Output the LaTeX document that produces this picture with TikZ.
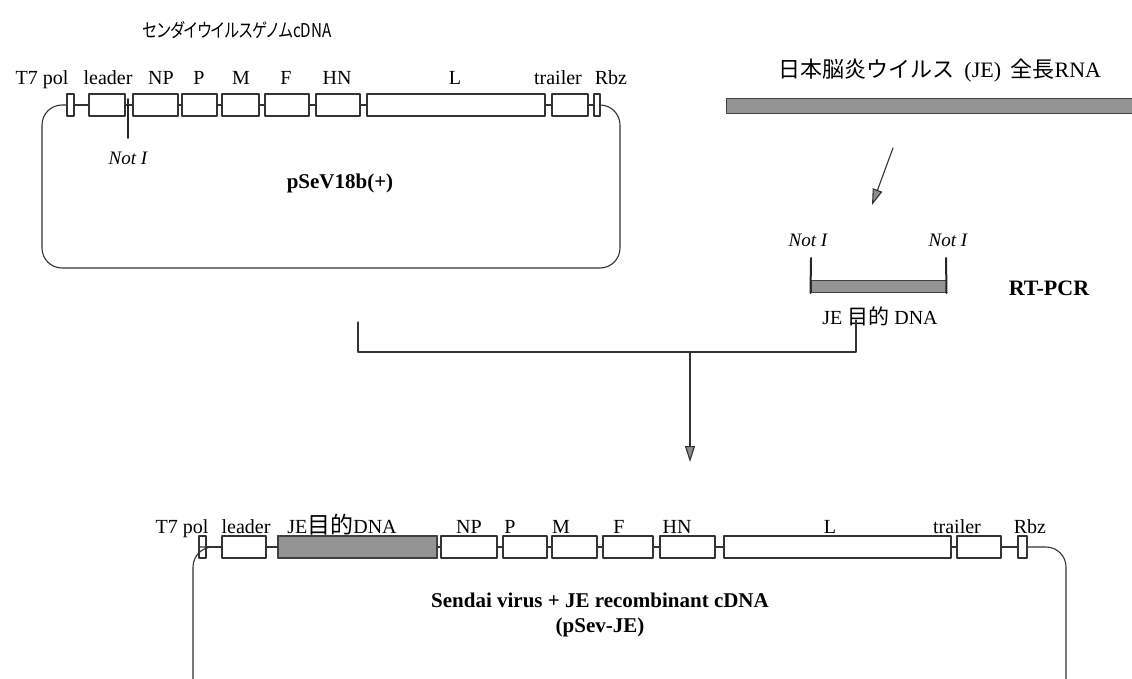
\documentclass[tikz,border=0pt]{standalone}
\usepackage{fontspec}
\setmainfont{Liberation Serif}
\newfontfamily\jpfont{Noto Sans CJK JP}
\newfontfamily\jppfont[RawFeature=+palt]{Noto Sans CJK JP}
\usetikzlibrary{arrows.meta}
\begin{document}
\begin{tikzpicture}[x=1pt,y=-1pt,line join=round,line cap=round,
  lbl/.style={font=\fontsize{20}{20}\selectfont},
  notlbl/.style={font=\itshape\fontsize{19}{19}\selectfont},
  boldlbl/.style={font=\bfseries\fontsize{21}{25}\selectfont},
  gene/.style={draw=black!80,line width=1.2pt,fill=white,minimum height=22pt,inner sep=0pt},
  bb/.style={draw=black!80,line width=1.1pt},
  grayfill/.style={fill=black!42,draw=black!75,line width=1pt,inner sep=0pt},
  tip/.style={-{Triangle[length=16pt,width=10pt,fill=black!45]}}]
  \useasboundingbox (0,0) rectangle (1132,679);
  % Sendai genome cDNA
  \node[font=\jppfont\fontsize{19}{19}\selectfont,xscale=0.8,transform shape] (sevtitle) at (237,30) {センダイウイルスゲノムcDNA};
  \foreach \na/\xa/\xb/\txt/\lx in {T7/67/74/T7 pol/42, le/89/125/leader/108, NP/133/178/NP/161, P/182/217/P/199,
      M/222/259/M/241, F/265/309/F/286, HN/316/360/HN/337, L/367/545/L/455, tr/552/588/trailer/558, Rbz/594/600/Rbz/611}{
    \node[gene,minimum width={(\xb-\xa)*1pt}] (t\na) at ({(\xa+\xb)/2},105) {};
    \node[lbl,anchor=base] (tl\na) at (\lx,85) {\txt};
  }
  \foreach \p/\q in {T7/le,le/NP,NP/P,P/M,M/F,F/HN,HN/L,L/tr,tr/Rbz} \draw[bb] (t\p.east) -- (t\q.west);
  \draw[bb,rounded corners=20pt] (tT7.west) -| (42,268) -| (620,105) -- (tRbz.east);
  \coordinate (tcut1) at (128,99); \coordinate (tcut2) at (128,138);
  \draw[line width=1.6pt,black!85] (tcut1) -- (tcut2);
  \node[notlbl] (tnot) at (128,158) {Not I};
  \node[boldlbl] (tname) at (340,183) {pSeV18b(+)};
  % JE RNA and RT-PCR
  \node[font=\fontsize{22}{22}\selectfont] (jetitle) at (940,71) {{\jpfont 日本脳炎ウイルス}\hspace{4pt} (JE)\hspace{4pt} {\jpfont 全長}RNA};
  \node[grayfill,minimum width=410pt,minimum height=15pt,anchor=west] (jerna) at (726,106.5) {};
  \coordinate (r1) at (893,148); \coordinate (r2) at (872,205);
  \draw[bb,tip] (r1) -- (r2);
  \node[notlbl] (pnot1) at (808,240) {Not I};
  \node[notlbl] (pnot2) at (948,240) {Not I};
  \node[grayfill,minimum width=135pt,minimum height=12pt] (pcr) at (878.5,286.5) {};
  \coordinate (pe1) at (811,258); \coordinate (pe2) at (946,258);
  \draw[line width=2pt,black!85] (pe1) -- (pcr.south west) (pe2) -- (pcr.south east);
  \node[lbl] (pcrname) at (880,316) {JE {\jpfont\fontsize{21}{21}\selectfont 目的} DNA};
  \node[boldlbl,font=\bfseries\fontsize{22}{22}\selectfont] (rtpcr) at (1049,288) {RT-PCR};
  % ligation
  \coordinate (m1) at (358,322); \coordinate (m2) at (856,320);
  \coordinate (mj) at (690,352); \coordinate (m3) at (690,462);
  \draw[bb] (m1) |- (mj) -| (m2);
  \draw[bb,tip] (mj) -- (m3);
  % recombinant cDNA
  \foreach \na/\xa/\xb/\txt/\lx in {T7/199/206/T7 pol/182, le/222/266/leader/246, JE/278/437/JE{\jpfont\fontsize{23}{23}\selectfont 目的}DNA/342,
      NP/441/497/NP/469, P/503/547/P/510, M/552/597/M/561, F/603/653/F/619, HN/660/715/HN/677,
      L/724/951/L/830, tr/957/1001/trailer/957, Rbz/1018/1027/Rbz/1030}{
    \node[gene,minimum width={(\xb-\xa)*1pt}] (b\na) at ({(\xa+\xb)/2},547) {};
    \node[lbl,anchor=base] (bl\na) at (\lx,533) {\txt};
  }
  \node[grayfill,minimum width=159pt,minimum height=22pt,line width=1.2pt] at (bJE) {};
  \foreach \p/\q in {T7/le,le/JE,JE/NP,NP/P,P/M,M/F,F/HN,HN/L,L/tr,tr/Rbz} \draw[bb] (b\p.east) -- (b\q.west);
  \draw[bb,rounded corners=20pt] (bT7.west) -| (193,700) -| (1066,547) -- (bRbz.east);
  \node[boldlbl,align=center] (bname) at (600,615) {Sendai virus + JE recombinant cDNA\\(pSev-JE)};
\end{tikzpicture}
\end{document}
